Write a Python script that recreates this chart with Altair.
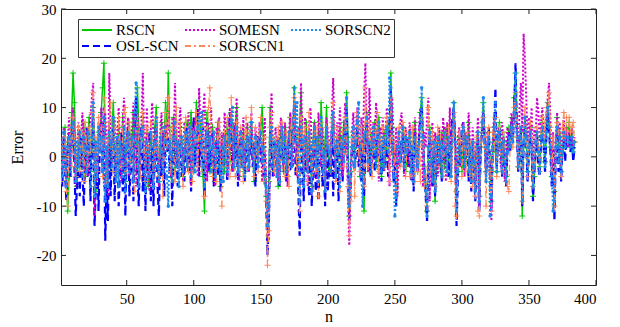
import altair as alt
import pandas as pd

series_names = ["RSCN", "OSL-SCN", "SOMESN", "SORSCN1", "SORSCN2"]

rscn = [
    -2, -5, 3, 6, -3, -11, -4, 2, 9, 17, 11, 0, -6, 3, 5, -2, 1, 7, -4, -1,
    4, 8, -3, 2, 10, 1, -7, -2, 5, 3, 9, 14, 19, 4, -6, 2, 7, -3, 5, 11,
    2, -4, 0, 6, 3, -2, 8, 1, -5, 4, 2, 7, -1, 3, 9, 5, -3, 14, 6, -2,
    3, 8, -4, 1, 5, -6, 2, 4, 0, -3, 6, 10, 2, -5, 1, 7, -2, 4, 11, 3,
    17, 6, -4, 2, 8, -3, 5, 1, -2, 6, 3, -4, 0, 4, 7, -1, 2, 9, 4, -3,
    5, 11, 3, -2, 7, 1, -4, -11, 2, 9, 5, -3, 1, 6, 0, -5, 3, 7, -2, -6,
    1, 4, -3, 2, 7, 3, -1, 9, 4, -2, 6, 10, 1, -4, 3, 0, 5, -3, 2, 6,
    -2, 3, 7, 1, -5, 2, 4, -1, 3, 5, 10, 2, -4, -8, -9, -5, 10, 3, -3, 1,
    4, -2, -6, 1, 5, 2, -3, 6, 0, -4, 3, 8, 2, 5, 14, 4, -3, 1, 6, 13,
    3, -5, 2, 7, -1, 4, 0, -6, 3, 7, 2, -3, 5, 1, 11, 4, -2, 3, 10, 2,
    -4, 1, 5, 8, 2, -3, 4, 0, 6, -2, 3, 7, 1, 13, 4, -12, -3, 2, 5, -1,
    3, 8, 1, -4, 2, 6, -11, 3, 9, 1, -3, 5, 0, 4, 7, -2, 3, 8, 1, -4,
    2, 5, -1, 4, 7, 3, 17, 6, -2, 1, -6, 3, 5, -1, 2, 6, 4, -3, 0, 3,
    5, -2, 1, 4, 7, 2, -3, 3, 9, 12, 4, -2, -6, -11, 2, 6, 1, -4, 3, -9,
    0, 4, 2, -3, 5, 1, -2, 3, 6, 0, -4, 2, 7, 11, 3, -7, -2, 4, 1, -3,
    2, 5, -1, 3, 7, 1, -4, 2, 0, -6, 3, 5, -8, 2, 6, 11, 4, -3, 1, 5,
    -2, -9, 3, 6, 1, -3, 4, 7, 2, -1, 5, 0, -4, 3, 6, 2, 8, 4, 12, 17,
    6, -2, 3, 5, -12, 2, 8, 4, -3, 1, 6, 3, -8, -4, 2, 5, 1, -2, 4, 7,
    3, -1, 5, 11, 6, 2, -4, 1, -7, 3, 8, 2, 5, -3, 1, 4, 2, 6, 3, 7,
    2, 5, 1, 3,
]

osl_scn = [
    2, -6, 4, -3, -9, 1, 5, -4, 3, 8, -2, -12, -5, 2, -8, 4, -3, -10, 1, 6,
    -4, 3, -9, 5, 8, -14, -6, 2, -11, 4, 7, -3, 10, -17, -5, -13, 3, -8, 2, 6,
    -9, 1, 4, -10, -3, 5, -7, 2, -12, 3, 6, -8, -2, 4, -9, 7, 12, -4, -10, 3,
    6, -7, 1, -11, 4, -3, 5, -9, 2, -10, 3, 7, -6, -12, 2, -4, 5, -8, 6, 1,
    4, -3, 1, -10, 5, -2, 3, -6, 1, 4, -4, 2, -5, 6, 1, -3, 4, -7, 2, 8,
    -2, 5, 10, -4, 3, -1, 6, -8, 2, 7, -3, 4, -2, 5, -6, 1, 3, -4, 2, -7,
    3, -2, 5, 1, -5, 4, 9, 2, -3, 6, -1, 4, -6, 2, 5, -2, 3, -5, 1, 4,
    -3, 2, 5, -2, 3, -6, 1, 4, 4, -1, 3, -4, 1, -9, -20, -13, 5, 2, -4, 3,
    1, -3, 4, -6, 2, 5, -2, 3, -5, 1, 4, -3, 2, 6, 11, -4, 3, -7, -16, 5,
    2, -9, 4, -3, 1, -8, 3, -10, -2, 4, -7, 2, -9, 1, 5, -6, -2, -10, 3, -7,
    1, -4, 5, -8, 2, -3, 4, -9, 1, 3, -5, 2, 6, 10, -4, -13, -6, 2, 4, -3,
    1, 6, -2, 3, -5, 2, -8, 4, 7, -2, 3, -4, 1, 5, -3, 2, 6, -1, 3, -5,
    2, -3, 4, 1, -4, 6, 14, 3, -5, 2, -10, 1, 4, -2, 3, 5, -3, 1, 4, -2,
    3, -5, 1, -7, 5, 2, -3, 4, 8, 10, 3, -4, -8, -13, 1, 4, -2, -6, 2, -8,
    1, 3, -2, 4, -5, 2, 6, -1, 3, -4, 1, 5, 8, 10, 2, -14, -4, 3, -2, 6,
    7, -3, 2, 4, -5, 1, -7, 3, -2, -9, 1, 4, -11, 2, 5, 9, 3, -4, 2, 6,
    -3, -11, 2, 5, 14, -2, 3, 6, 1, -4, 4, -2, -6, 2, 5, 1, 7, 3, 10, 19,
    5, -3, 4, 6, -10, 3, 7, 2, -5, 1, 5, 2, -9, -3, 1, 4, -2, -4, 3, 6,
    2, -3, 4, 9, 5, 1, -6, 2, -13, 1, 6, -3, 4, -5, 2, 3, -1, 4, 2, 5,
    1, 4, -1, 2,
]

somesn = [
    4, -3, 6, 1, -5, 3, 8, -2, 5, 10, 3, -6, 2, 7, -1, 4, 9, -3, 6, 2,
    -4, 5, 8, 12, 15, -12, 3, -5, 7, 2, 10, 4, -6, 9, 3, -8, 17, 6, -2, 4,
    8, -3, 5, 10, 2, -5, 7, 12, -2, 4, 8, -4, 3, 6, 11, 1, -6, 9, 4, -3,
    7, 17, 3, -5, 10, 2, -7, 6, 11, 4, -3, 8, 1, -6, 5, 9, -2, 4, 7, 3,
    10, 4, -4, 8, 2, 15, 5, -3, 6, 10, 1, -5, 7, 3, -2, 9, 4, -6, 6, 2,
    8, 3, -4, 14, 6, 1, 9, 13, 2, -5, 7, 3, 10, -2, 4, -6, 6, 2, 8, -3,
    5, -2, 9, 3, -4, 6, 10, 2, -3, 7, 4, 12, 3, -5, 6, 1, 8, -2, 4, 7,
    -3, 5, 9, 2, -4, 6, 3, -2, 7, 4, -5, 3, 8, -7, -12, -17, 5, 13, 2, -4,
    6, 1, -5, 4, 8, 2, -3, 7, 3, -6, 5, 9, 2, -2, 10, 4, -4, 6, 2, 15,
    5, -3, 8, 3, -6, 6, 10, 2, -4, 7, 3, -5, 9, 4, -2, 6, 1, -7, 8, 5,
    3, -3, 9, 16, 4, -5, 7, 2, 10, 3, -4, 6, 11, 4, -8, -18, -6, 5, 9, 2,
    6, 10, 3, -4, 8, 2, 12, 19, 6, -3, 14, 5, -2, 7, 3, 11, 4, -5, 6, 2,
    8, -3, 5, 10, 3, -6, 7, 12, 4, -2, 6, -8, 3, 7, 9, 2, -4, 6, 3, -2,
    7, 4, -5, 3, 8, 2, -3, 6, 10, 4, -6, 5, 2, 8, 12, -9, 3, 7, -3, 5,
    2, -4, 6, 3, -2, 8, 4, -5, 7, 2, 10, -3, 5, 9, 2, -10, 4, 6, -2, 3,
    7, -4, 5, 2, 9, 3, -5, 6, 1, -7, 4, 8, -10, 3, 6, 9, 2, -4, 5, 3,
    -6, -13, 4, 8, 2, -3, 6, 3, -2, 7, 4, -5, 3, 6, 1, 5, 9, 4, 11, 8,
    6, -2, 10, 15, 5, 25, 20, 12, 3, 8, 5, 10, -4, 6, 4, 12, 9, 3, 7, 10,
    4, 6, 8, 12, 15, 8, -3, 5, -11, 3, 9, 4, 7, -2, 5, 8, 3, 6, 2, 5,
    3, 6, 2, 4,
]

sorscn1 = [
    -5, 2, -3, 4, -7, -10, 3, 6, -2, 8, 4, -4, 1, 6, -3, 5, 2, -5, 7, 3,
    -2, 6, 1, 9, 13, -6, 4, -3, 8, 2, 6, -4, 12, 3, -5, 2, 7, 11, 4, -3,
    6, 2, -4, 8, 3, -2, 5, 9, 10, -3, 4, 7, -1, 3, -5, -7, 5, 8, 2, -4,
    3, 9, 1, -5, 6, 2, -3, 7, 4, -6, 2, 8, 3, -4, 1, 5, -8, 3, 9, 2,
    12, 4, -3, 6, 2, -5, 10, 3, -2, 7, 1, -6, 4, 8, 2, -3, 6, 1, -5, 5,
    3, 9, -2, 7, 4, -3, 8, -8, 1, 6, 10, 14, 3, -4, 5, 1, -5, 4, 7, -2,
    -10, 3, 5, -2, 8, 2, -4, 12, 5, -1, -4, 7, 3, -3, 6, 1, -5, 4, 8, 2,
    -2, 5, 10, 3, -4, 6, 1, -3, 5, 8, 2, -5, 4, -9, -22, -15, 6, 9, 1, -3,
    4, -2, 6, -5, 3, 7, 1, -4, 5, 2, -6, 4, 8, 3, 12, 2, -3, 5, -11, 8,
    4, -2, 6, 1, -5, 9, 3, -7, 2, 5, -3, 6, -8, 3, 7, 1, -4, -6, 6, 3,
    2, -3, 7, 11, 4, -5, 6, 1, -7, 3, 5, -2, 8, 6, -6, -16, -9, 3, 5, -8,
    4, 9, 1, -3, 6, 2, -6, 14, 5, -2, 7, 3, -4, 6, 2, 5, 9, -3, 4, 1,
    6, -2, 4, 8, 2, -5, 12, 4, -3, 2, -7, 3, 6, -2, 4, 7, 5, -4, 2, 5,
    3, -4, 6, 1, -5, 4, -3, 2, -5, 8, 3, -6, -2, -10, 10, 4, -3, 5, 2, -6,
    3, 6, -2, 4, 1, -4, 5, 3, -3, 6, 2, -5, 4, 9, -10, -12, -2, 5, 3, -4,
    6, 2, -3, 5, 1, -4, 3, -6, 2, -8, 4, -11, -12, 3, 7, 8, 2, -10, 4, 6,
    -3, -11, 5, 2, 8, -4, 3, 6, 1, -3, 5, 2, -5, -6, -7, 3, 6, 2, 10, 13,
    4, -2, 6, 3, -9, 4, 10, 3, -4, 2, 7, 4, -6, -1, 3, 6, 2, -3, 5, 8,
    4, 7, 10, 9, 13, 6, -3, 4, -10, 2, 7, 5, 3, -4, 6, 9, 4, 8, 3, 8,
    5, 6, 7, 3,
]

sorscn2 = [
    3, -4, 5, -2, -6, 2, 4, -3, 6, 7, 1, -5, 3, -2, 5, 1, -4, 4, 2, -3,
    5, 2, -6, 4, 11, -8, 3, -4, 6, 1, 4, -3, 8, -9, 2, -6, 5, 3, -2, 8,
    2, -5, 4, -6, 3, 1, -4, 6, -7, 2, 5, -3, 1, 4, -5, 9, 15, 3, -6, 2,
    5, 6, -3, -7, 3, 1, -4, 5, 2, -6, 3, 8, -2, -5, 4, 1, -3, 6, 3, -4,
    -10, 3, 1, -5, 4, 7, -2, 3, -6, 2, 4, -3, 1, 5, -2, 3, 6, -4, 2, 5,
    -3, 4, 6, 8, 2, 9, -2, -6, 3, 5, -1, 4, -3, 2, 5, -4, 1, 3, -2, -5,
    2, -5, 4, 1, -3, 5, 3, 7, 10, -2, 4, 6, -3, 1, 5, -2, 3, -4, 2, 4,
    -2, 3, 7, 1, -3, 4, 2, -2, 3, 5, -1, 2, -4, -6, -14, -10, 4, 6, -2, 3,
    2, -4, 3, -5, 2, 6, -1, 4, -3, 2, 5, 1, -2, 4, 14, 3, 11, -5, -9, 6,
    3, -6, 4, 1, -3, 5, 2, -7, 3, 6, -2, 4, -5, 2, 8, -3, 1, -7, 6, 2,
    1, -3, 5, 9, 2, -4, 3, 1, -6, 2, 4, -1, 5, 12, 3, -10, -4, 2, 6, -2,
    3, 7, 11, 2, -4, -10, 4, 5, 8, -1, 3, -3, 2, 6, 1, -2, 4, 7, 2, -3,
    4, -2, 3, 6, 1, 16, 14, 2, -4, -12, -8, 2, 5, -1, 3, 6, -2, 4, 1, 3,
    5, -3, 2, -5, 4, 1, -2, 3, 6, 14, 4, -3, -7, -12, 2, 5, -1, -5, 3, -7,
    2, 4, -1, 3, -4, 2, 5, 1, -3, 4, 2, -4, 6, 11, 3, -11, -3, 2, -1, 5,
    6, -2, 3, 4, -3, 2, -5, 3, -1, -7, 2, 5, -9, 1, 7, 12, 3, -5, 2, 4,
    -12, -8, 2, 6, 11, -3, 4, 5, 2, -3, 3, -1, -5, 1, 4, 2, 6, 3, 9, 17,
    5, -2, 4, 6, -9, 3, 8, 4, -3, 2, 5, 1, -6, -2, 3, 5, 1, -3, 4, 6,
    3, -2, 5, 10, 6, 2, -4, -11, -9, 2, 6, -1, 4, -3, 1, 5, 2, 4, 4, 3,
    2, 4, 1, 3,
]

x_ticks = [50, 100, 150, 200, 250, 300, 350, 400]
y_ticks = [-20, -10, 0, 10, 20, 30]

values = {"RSCN": rscn, "OSL-SCN": osl_scn, "SOMESN": somesn,
          "SORSCN1": sorscn1, "SORSCN2": sorscn2}
for k, v in values.items():
    assert len(v) == 384, (k, len(v))

rows = []
for s in series_names:
    for i, v in enumerate(values[s]):
        rows.append({"n": i + 1, "err": v, "series": s})
df = pd.DataFrame(rows)

colors = {"RSCN": "#00c800", "OSL-SCN": "#0000ff", "SOMESN": "#cc00cc",
          "SORSCN1": "#ff8a5c", "SORSCN2": "#1e88ee"}
dashes = {"RSCN": [1, 0], "OSL-SCN": [7, 4], "SOMESN": [2, 2],
          "SORSCN1": [6, 3, 2, 3], "SORSCN2": [2, 2]}
widths = {"RSCN": 1.5, "OSL-SCN": 2.2, "SOMESN": 2.0, "SORSCN1": 1.3, "SORSCN2": 2.0}

W, H = 535, 276
FONT = "Liberation Serif"
xscale = alt.Scale(domain=[1, 400], nice=False, zero=False)
yscale = alt.Scale(domain=[-26, 30], nice=False, zero=False)

legend_kw = dict(title=None, orient="none", legendX=17, legendY=10,
                 columns=3, columnPadding=5, rowPadding=0,
                 symbolType="stroke", symbolSize=900, clipHeight=16,
                 symbolStrokeWidth=2, labelFont=FONT,
                 labelFontSize=15, labelColor="black",
                 labelOffset=3, padding=3,
                 fillColor="white", strokeColor="#333333")

color_enc = alt.Color("series:N",
                      scale=alt.Scale(domain=series_names,
                                      range=[colors[s] for s in series_names]),
                      legend=alt.Legend(**legend_kw))
dash_enc = alt.StrokeDash("series:N",
                          scale=alt.Scale(domain=series_names,
                                          range=[dashes[s] for s in series_names]),
                          legend=alt.Legend(**legend_kw))

base = alt.Chart(df)
lab_expr = "'' + datum.value"
x_enc = alt.X("n:Q", scale=xscale,
              axis=alt.Axis(values=x_ticks, title="n", tickSize=0, domain=False,
                            grid=False, labelPadding=6, titlePadding=2,
                            labelFont=FONT, labelExpr=lab_expr))
y_enc = alt.Y("err:Q", scale=yscale,
              axis=alt.Axis(values=y_ticks, title="Error", tickSize=0, domain=False,
                            grid=False, labelPadding=5, titlePadding=11,
                            labelFont=FONT, labelExpr=lab_expr))

plus = "M-1,0L1,0M0,-1L0,1"
layers = []
for s in series_names:
    sub = base.transform_filter(alt.datum.series == s)
    layers.append(sub.mark_line(strokeWidth=widths[s], clip=True).encode(
        x=x_enc, y=y_enc, color=color_enc, strokeDash=dash_enc))
    if s in ("RSCN", "SORSCN1"):
        layers.append(sub.mark_point(shape=plus, filled=False, size=36, strokeWidth=1,
                                     color=colors[s], opacity=1, clip=True).encode(
            x=alt.X("n:Q", scale=xscale), y=alt.Y("err:Q", scale=yscale)))
    if s == "SORSCN2":
        layers.append(sub.mark_circle(size=12, color=colors[s], opacity=1, clip=True).encode(
            x=alt.X("n:Q", scale=xscale), y=alt.Y("err:Q", scale=yscale)))

xt = pd.DataFrame({"t": x_ticks})
yt = pd.DataFrame({"t": y_ticks})
tick_style = dict(color="#222222", strokeWidth=1)
layers.append(alt.Chart(xt).mark_rule(**tick_style).encode(
    x=alt.X("t:Q", scale=xscale), y=alt.value(H), y2=alt.value(H - 5)))
layers.append(alt.Chart(xt).mark_rule(**tick_style).encode(
    x=alt.X("t:Q", scale=xscale), y=alt.value(0), y2=alt.value(5)))
layers.append(alt.Chart(yt).mark_rule(**tick_style).encode(
    y=alt.Y("t:Q", scale=yscale), x=alt.value(0), x2=alt.value(5)))
layers.append(alt.Chart(yt).mark_rule(**tick_style).encode(
    y=alt.Y("t:Q", scale=yscale), x=alt.value(W), x2=alt.value(W - 5)))

chart = alt.layer(*layers).properties(
    width=W, height=H,
    autosize=alt.AutoSizeParams(type="none"),
    padding={"left": 61, "top": 9, "right": 24, "bottom": 42},
    background="white",
).configure_view(stroke="#222222", strokeWidth=1).configure_axis(
    labelFont=FONT, labelFontSize=15, labelColor="black",
    titleFont=FONT, titleFontSize=16, titleFontWeight="normal", titleColor="black",
).configure_legend(
    labelFont=FONT, labelFontSize=15, labelColor="black",
)

chart.save("out.html", embed_options={"renderer": "svg", "actions": False})
